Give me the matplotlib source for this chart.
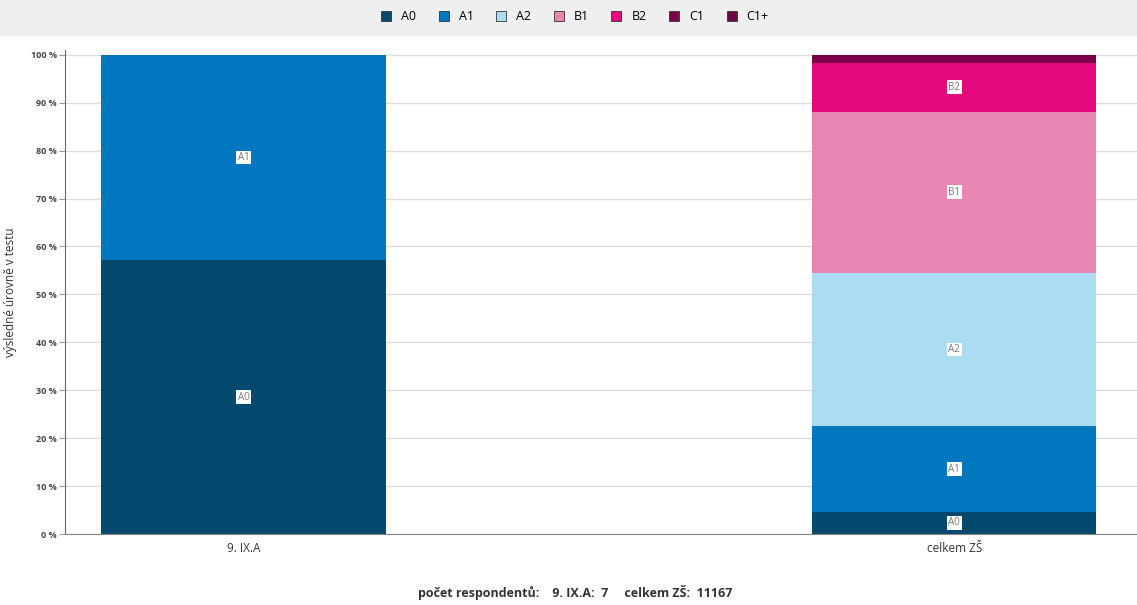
import matplotlib
matplotlib.use("Agg")
import matplotlib.pyplot as plt
from matplotlib.patches import Rectangle

plt.rcParams['font.family'] = ['Open Sans', 'DejaVu Sans']

# data (percent of respondents per level)
categories = ["9. IX.A", "celkem ZŠ"]
levels = ["A0", "A1", "A2", "B1", "B2", "C1", "C1+"]
values = {
    "A0":  [57.14, 4.6],
    "A1":  [42.86, 17.9],
    "A2":  [0.0, 32.0],
    "B1":  [0.0, 33.6],
    "B2":  [0.0, 10.2],
    "C1":  [0.0, 1.6],
    "C1+": [0.0, 0.1],
}
colors = ["#054a6e", "#0077bf", "#acdcf1", "#e985b3", "#e4097f", "#7b0048", "#6a0a44"]
yticks = [0, 10, 20, 30, 40, 50, 60, 70, 80, 90, 100]
respondents = {"9. IX.A": 7, "celkem ZŠ": 11167}

fig = plt.figure(figsize=(11.37, 6.05), dpi=100)
# gray legend band on top
fig.patches.append(Rectangle((0, 1 - 36 / 605), 1, 36 / 605, transform=fig.transFigure,
                             facecolor="#efefef", edgecolor="none", zorder=0))

ax = fig.add_axes([65 / 1137, 71 / 605, 1 - 65 / 1137, 484 / 605])
x = list(range(len(categories)))
bottom = [0.0] * len(categories)
handles = []
for lev, col in zip(levels, colors):
    vals = values[lev]
    b = ax.bar(x, vals, width=0.40, bottom=bottom, color=col, zorder=2, label=lev)
    handles.append(b)
    for i, v in enumerate(vals):
        if v >= 3:
            ax.text(x[i], bottom[i] + v / 2, lev, ha="center", va="center", fontsize=7,
                    color="#777777", zorder=3,
                    bbox=dict(boxstyle="square,pad=0.15", facecolor="white", edgecolor="none"))
    bottom = [bt + v for bt, v in zip(bottom, vals)]

ax.set_xlim(-0.251, 1.257)
ax.set_ylim(0, 101)
ax.set_yticks(yticks)
ax.set_yticklabels([f"{t} %" for t in yticks], fontsize=6.5, fontweight="bold", color="#444444")
ax.set_xticks(x)
ax.set_xticklabels(categories, fontsize=8.5, color="#333333")
ax.tick_params(axis="x", length=0, pad=6)
ax.tick_params(axis="y", length=4, color="#999999", pad=2)
ax.grid(axis="y", color="#dddddd", linewidth=1, zorder=0)
ax.set_axisbelow(True)
for s in ["top", "right"]:
    ax.spines[s].set_visible(False)
ax.spines["left"].set_color("#666666")
ax.spines["bottom"].set_color("#888888")
ax.set_ylabel("výsledné úrovně v testu", fontsize=8.5, color="#333333", labelpad=10)

leg = fig.legend(handles=handles, labels=levels, loc="center", bbox_to_anchor=(575 / 1137, 1 - 17 / 605),
                 ncol=7, frameon=False, fontsize=9, handlelength=0.8, handleheight=0.8,
                 handletextpad=0.8, columnspacing=1.8)
for h in leg.legend_handles:
    h.set_edgecolor("#333333")
    h.set_linewidth(0.6)

txt = "počet respondentů:    " + "     ".join(f"{k}:  {v}" for k, v in respondents.items())
fig.text(575 / 1137, 1 - 593 / 605, txt, ha="center", va="center", fontsize=9,
         fontweight="bold", color="#333333")

fig.savefig("out.png", dpi=100, facecolor="white")
